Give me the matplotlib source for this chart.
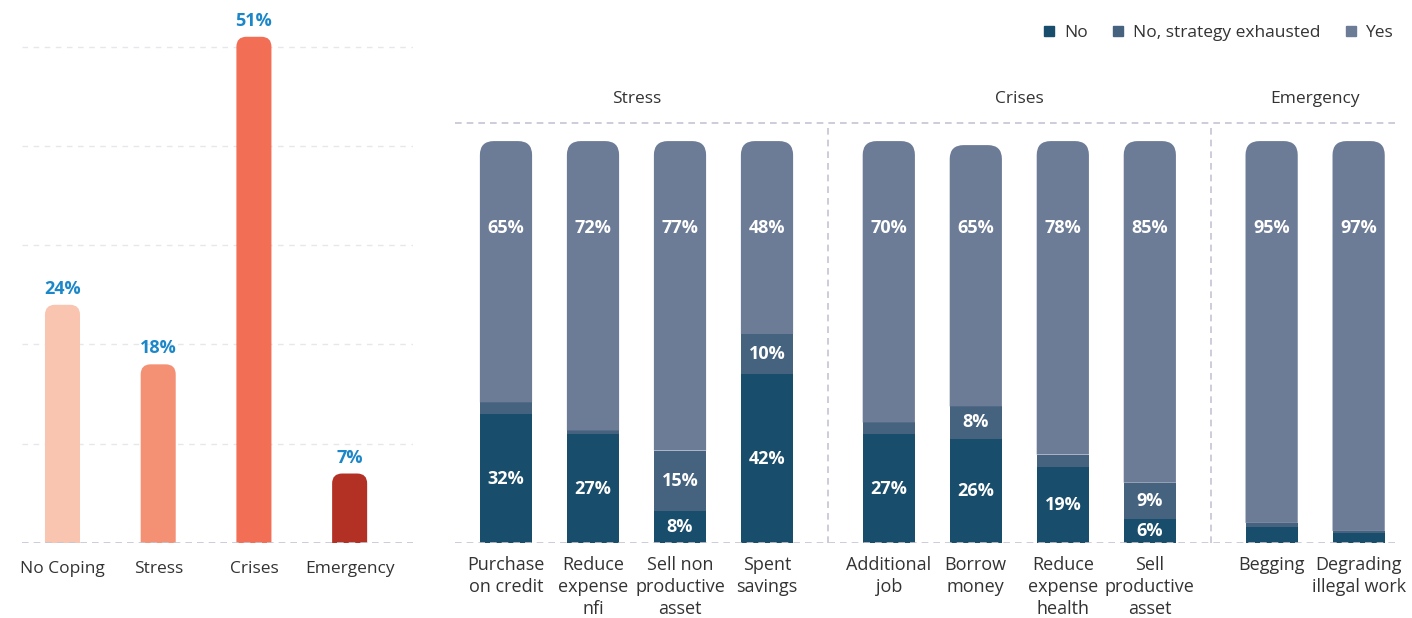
import matplotlib

matplotlib.use("Agg")
import matplotlib.pyplot as plt
from matplotlib.lines import Line2D
from matplotlib.patches import PathPatch, Rectangle
from matplotlib.path import Path

plt.rcParams["font.family"] = ["Open Sans", "DejaVu Sans"]

# share of households by coping level
levels = ["No Coping", "Stress", "Crises", "Emergency"]
level_pct = [24, 18, 51, 7]
level_colors = ["#fac5b0", "#f49175", "#f26e55", "#b23124"]

# individual strategies, grouped by severity
groups = ["Stress", "Crises", "Emergency"]
group_size = [4, 4, 2]
strategies = [
    "Purchase\non credit", "Reduce\nexpense\nnfi", "Sell non\nproductive\nasset", "Spent\nsavings",
    "Additional\njob", "Borrow\nmoney", "Reduce\nexpense\nhealth", "Sell\nproductive\nasset",
    "Begging", "Degrading\nillegal work",
]
pct_no = [32, 27, 8, 42, 27, 26, 19, 6, 4, 2.5]
pct_exhausted = [3, 1, 15, 10, 3, 8, 3, 9, 1, 0.5]
pct_yes = [65, 72, 77, 48, 70, 65, 78, 85, 95, 97]
answers = ["No", "No, strategy exhausted", "Yes"]
answer_colors = ["#184d6b", "#45627e", "#6c7b96"]

W, H, DPI = 1412, 618, 100
TEXT = "#333333"
GRID = "#e6e7ec"
RULE = "#c3c5d3"


def top_rounded(ax, x, y0, y1, width, r_px, color):
    """Bar segment with rounded top corners, radius given in pixels."""
    pos = ax.get_position()
    x_lo, x_hi = ax.get_xlim()
    y_lo, y_hi = ax.get_ylim()
    rx = r_px / (pos.width * W / (x_hi - x_lo))
    ry = min(r_px / (pos.height * H / (y_hi - y_lo)), y1 - y0)
    l, r = x - width / 2, x + width / 2
    verts = [
        (l, y0), (l, y1 - ry), (l, y1), (l + rx, y1),
        (r - rx, y1), (r, y1), (r, y1 - ry), (r, y0), (l, y0),
    ]
    codes = [
        Path.MOVETO, Path.LINETO, Path.CURVE3, Path.CURVE3,
        Path.LINETO, Path.CURVE3, Path.CURVE3, Path.LINETO, Path.CLOSEPOLY,
    ]
    ax.add_patch(PathPatch(Path(verts, codes), facecolor=color, edgecolor="none", zorder=3))


fig = plt.figure(figsize=(W / DPI, H / DPI), dpi=DPI)

# ---- left: overall coping levels
ax1 = fig.add_axes([22 / W, 75 / H, 391 / W, 536 / H])
ax1.set_xlim(-0.423, 3.662)
ax1.set_ylim(0, 54)
for i, (v, c) in enumerate(zip(level_pct, level_colors)):
    top_rounded(ax1, i, 0, v, 0.366, 10, c)
    ax1.annotate(f"{v}%", (i, v), xytext=(0, 5), textcoords="offset points",
                 ha="center", va="bottom", fontsize=13, fontweight="bold", color="#1b87c9")
for g in range(10, 60, 10):
    ax1.axhline(g, color=GRID, lw=1, ls=(0, (4, 4)), zorder=1)
ax1.axhline(0, color=RULE, lw=1.2, ls=(0, (4, 3)), zorder=4)
ax1.set_xticks(range(len(levels)), levels, fontsize=12.5, color=TEXT)
ax1.tick_params(length=0, pad=13)
ax1.set_yticks([])
for s in ax1.spines.values():
    s.set_visible(False)

# ---- right: stacked strategies
ax2 = fig.add_axes([455 / W, 75 / H, 940 / W, 420 / H])
ax2.set_xlim(-0.586, 10.218)
ax2.set_ylim(0, 104.5)
gap = 0.4
xs = []
offset = 0.0
for n in group_size:
    xs.extend(offset + k for k in range(n))
    offset += n + gap
width = 0.6

for x, no, ex, yes in zip(xs, pct_no, pct_exhausted, pct_yes):
    ax2.add_patch(Rectangle((x - width / 2, 0), width, no, facecolor=answer_colors[0], zorder=3))
    ax2.add_patch(Rectangle((x - width / 2, no), width, ex, facecolor=answer_colors[1], zorder=3))
    top_rounded(ax2, x, no + ex, no + ex + yes, width, 14, answer_colors[2])
    lab = dict(ha="center", va="center", fontsize=13, fontweight="bold", color="white", zorder=5)
    if no >= 5:
        ax2.text(x, no / 2, f"{no}%", **lab)
    if ex >= 5:
        ax2.text(x, no + ex / 2, f"{ex}%", **lab)
    ax2.text(x, 78.4, f"{yes}%", **lab)

dash = (0, (4, 3))
ax2.axhline(0, color=RULE, lw=1.2, ls=dash, zorder=4)
ax2.axhline(104.5, color=RULE, lw=1.2, ls=dash, zorder=4, clip_on=False)
start = 0
for gi, (name, n) in enumerate(zip(groups, group_size)):
    members = xs[start:start + n]
    ax2.text(sum(members) / n, 110.5, name, ha="center", va="center",
             fontsize=12.5, color=TEXT, clip_on=False)
    if gi > 0:
        ax2.plot([members[0] - 0.5 - gap / 2] * 2, [0, 104.5], color=RULE, lw=1.2,
                 ls=dash, zorder=4, clip_on=False)
    start += n

ax2.set_xticks(xs, strategies, fontsize=13, color=TEXT, linespacing=1.3, va="top")
ax2.tick_params(length=0, pad=9)
ax2.set_yticks([])
for s in ax2.spines.values():
    s.set_visible(False)

handles = [Line2D([], [], marker="s", ls="none", markersize=6.5, color=c) for c in answer_colors]
fig.legend(handles, answers, loc="center right", bbox_to_anchor=(1400 / W, 1 - 33 / H),
           ncol=3, frameon=False, fontsize=12.5, handlelength=0.6, handletextpad=0.55,
           columnspacing=1.45, labelcolor=TEXT, borderaxespad=0)

fig.savefig("out.png", dpi=DPI)
